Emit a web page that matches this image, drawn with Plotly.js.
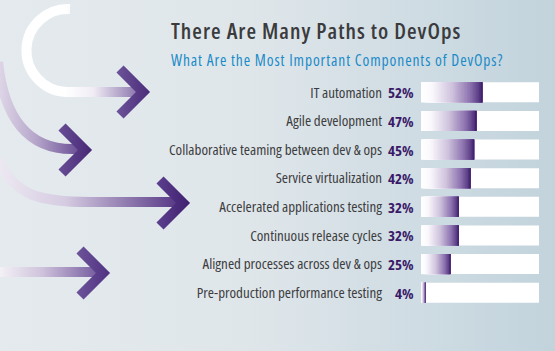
<!DOCTYPE html>
<html>
<head>
<meta charset="utf-8">
<script src="https://cdn.plot.ly/plotly-3.0.1.min.js"></script>
<style>
  html, body { margin: 0; padding: 0; width: 555px; height: 351px; overflow: hidden; }
  #wrap { position: relative; width: 555px; height: 351px;
          background: linear-gradient(90deg, #e4eaed 0%, #dfe6ea 45%, #cfdce3 75%, #c2d3dc 100%); }
  #deco { position: absolute; left: 0; top: 0; }
  #chart { position: absolute; left: 0; top: 0; width: 555px; height: 351px; }
  svg text { font-stretch: condensed; }
  #chart .gtitle { font-stretch: 86% !important; letter-spacing: 1px; }
  #chart g.annotation[data-index="8"] text { letter-spacing: 0.9px; }
</style>
</head>
<body>
<div id="wrap">
<svg id="deco" width="555" height="351" viewBox="0 0 555 351">
  <defs>
    <linearGradient id="g1" gradientUnits="userSpaceOnUse" x1="65" y1="0" x2="145" y2="0">
      <stop offset="0" stop-color="#ffffff"/>
      <stop offset="0.35" stop-color="#f1edf5"/>
      <stop offset="1" stop-color="#7a62a1"/>
    </linearGradient>
    <linearGradient id="g2" gradientUnits="userSpaceOnUse" x1="0" y1="0" x2="88" y2="0">
      <stop offset="0" stop-color="#ddd5e6"/>
      <stop offset="0.4" stop-color="#b7a7cb"/>
      <stop offset="1" stop-color="#5a3d8a"/>
    </linearGradient>
    <linearGradient id="g3" gradientUnits="userSpaceOnUse" x1="0" y1="0" x2="185" y2="0">
      <stop offset="0" stop-color="#ece8f1"/>
      <stop offset="0.35" stop-color="#d6cce2"/>
      <stop offset="1" stop-color="#4f2f80"/>
    </linearGradient>
    <linearGradient id="g4" gradientUnits="userSpaceOnUse" x1="0" y1="0" x2="105" y2="0">
      <stop offset="0" stop-color="#f3f0f6"/>
      <stop offset="0.4" stop-color="#cfc3dc"/>
      <stop offset="1" stop-color="#6a4f97"/>
    </linearGradient>
    <linearGradient id="c1" gradientUnits="userSpaceOnUse" x1="114" y1="0" x2="150" y2="0">
      <stop offset="0" stop-color="#6f569b"/><stop offset="1" stop-color="#4a2b7a"/>
    </linearGradient>
    <linearGradient id="c2" gradientUnits="userSpaceOnUse" x1="56" y1="0" x2="92" y2="0">
      <stop offset="0" stop-color="#6a5098"/><stop offset="1" stop-color="#472775"/>
    </linearGradient>
    <linearGradient id="c3" gradientUnits="userSpaceOnUse" x1="154" y1="0" x2="190" y2="0">
      <stop offset="0" stop-color="#5e4290"/><stop offset="1" stop-color="#3f1f6f"/>
    </linearGradient>
    <linearGradient id="c4" gradientUnits="userSpaceOnUse" x1="74" y1="0" x2="110" y2="0">
      <stop offset="0" stop-color="#6f569b"/><stop offset="1" stop-color="#4f3182"/>
    </linearGradient>
  </defs>
  <path d="M 70 9 A 41 41 0 1 0 66 92 L 138 92" fill="none" stroke="url(#g1)" stroke-width="10"/>
  <polyline points="120,69 143,92 120,115" fill="none" stroke="url(#c1)" stroke-width="10" stroke-linejoin="miter"/>
  <path d="M -2 62 C 4 118, 28 149, 72 149 L 80 149" fill="none" stroke="url(#g2)" stroke-width="10"/>
  <polyline points="62,127 85,150 62,173" fill="none" stroke="url(#c2)" stroke-width="10" stroke-linejoin="miter"/>
  <path d="M -2 160 C 15 196, 40 202, 90 202 L 178 202" fill="none" stroke="url(#g3)" stroke-width="10"/>
  <polyline points="160,180 183,203 160,226" fill="none" stroke="url(#c3)" stroke-width="10" stroke-linejoin="miter"/>
  <path d="M -2 272 L 98 272" fill="none" stroke="url(#g4)" stroke-width="10"/>
  <polyline points="80,250 103,273 80,296" fill="none" stroke="url(#c4)" stroke-width="10" stroke-linejoin="miter"/>
</svg>
<div id="chart"></div>
</div>
<script>
const categories = [
  "IT automation",
  "Agile development",
  "Collaborative teaming between dev & ops",
  "Service virtualization",
  "Accelerated applications testing",
  "Continuous release cycles",
  "Aligned processes across dev & ops",
  "Pre-production performance testing"
];
const values = [52, 47, 45, 42, 32, 32, 25, 4];
const trackMax = 100;

const titleText = "There Are Many Paths to DevOps";
const subtitleText = "What Are the Most Important Components of DevOps?";

const stops = [
  [0.0, [255, 255, 255]],
  [0.18, [250, 248, 252]],
  [0.5, [208, 196, 222]],
  [0.8, [140, 114, 175]],
  [0.94, [92, 62, 135]],
  [1.0, [60, 26, 104]]
];
function colorAt(t) {
  for (let i = 1; i < stops.length; i++) {
    if (t <= stops[i][0]) {
      const a = stops[i - 1], b = stops[i];
      const f = (t - a[0]) / (b[0] - a[0]);
      const c = a[1].map((v, j) => Math.round(v + (b[1][j] - v) * f));
      return "rgb(" + c.join(",") + ")";
    }
  }
  const c = stops[stops.length - 1][1];
  return "rgb(" + c.join(",") + ")";
}

const FONT = "Open Sans, sans-serif";
const barWidth = 0.7;
const traces = [];
traces.push({
  type: "bar", orientation: "h",
  y: categories, x: categories.map(() => trackMax),
  marker: { color: "#ffffff", line: { width: 0 } },
  width: barWidth, hoverinfo: "skip", showlegend: false
});
const N = 40;
for (let k = 0; k < N; k++) {
  traces.push({
    type: "bar", orientation: "h",
    y: categories,
    base: values.map(v => v * k / N),
    x: values.map(v => v - v * k / N),
    marker: { color: colorAt((k + 0.5) / N), line: { width: 0 } },
    width: barWidth, hoverinfo: "skip", showlegend: false
  });
}

const annotations = values.map((v, i) => ({
  xref: "paper", yref: "y", x: -0.04, y: categories[i],
  xanchor: "right", yanchor: "middle", showarrow: false,
  text: "<b>" + v + "%</b>",
  font: { family: FONT, size: 15, color: "#3a1a68" }
}));
annotations.push({
  xref: "paper", yref: "paper", x: (337 - 421) / 118, y: 1 + (78 - 60) / 229,
  xanchor: "center", yanchor: "middle", showarrow: false,
  text: subtitleText,
  font: { family: FONT, size: 15.5, color: "#1a8bc8" }
});

const layout = {
  width: 555, height: 351,
  paper_bgcolor: "rgba(0,0,0,0)", plot_bgcolor: "rgba(0,0,0,0)",
  margin: { l: 421, r: 16, t: 78, b: 44 },
  barmode: "overlay",
  showlegend: false,
  title: {
    text: titleText,
    xref: "container", yref: "container", x: 171 / 555, xanchor: "left",
    y: 1 - 31 / 351, yanchor: "middle",
    font: { family: FONT, size: 22, weight: 600, color: "#3b3b3d" }
  },
  xaxis: { range: [0, trackMax], visible: false, fixedrange: true },
  yaxis: {
    type: "category", categoryorder: "array", categoryarray: categories,
    autorange: "reversed", showgrid: false, zeroline: false, showline: false,
    ticks: "", ticklabelstandoff: 38,
    tickfont: { family: FONT, size: 15, color: "#3d3d40" }
  },
  annotations: annotations
};

Plotly.newPlot("chart", traces, layout, { displayModeBar: false, staticPlot: true });
</script>
</body>
</html>
